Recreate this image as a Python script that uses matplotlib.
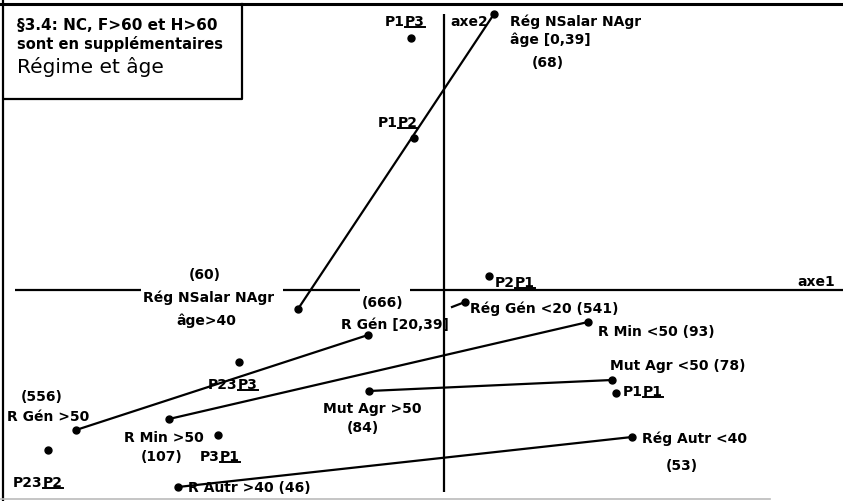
import matplotlib
matplotlib.use("Agg")
import matplotlib.pyplot as plt
from matplotlib.lines import Line2D
from matplotlib.transforms import IdentityTransform, offset_copy

names = [
    "Rég NSalar NAgr âge [0,39]", "Rég NSalar NAgr âge>40", "P1P3", "P1P2", "P2P1",
    "Rég Gén <20", "Rég Gén <20 (amorce)", "R Gén [20,39]", "R Gén >50",
    "R Min <50", "R Min >50", "Mut Agr <50", "Mut Agr >50", "P1P1",
    "Rég Autr <40", "R Autr >40", "P23P3", "P23P2", "P3P1",
]
axe1 = [0.50, -1.46, -0.33, -0.30, 0.45, 0.21, 0.08, -0.76, -3.68,
        1.44, -2.75, 1.68, -0.75, 1.72, 1.88, -2.66, -2.05, -3.96, -2.26]
axe2 = [2.76, -0.19, 2.52, 1.52, 0.14, -0.12, -0.17, -0.45, -1.40,
        -0.32, -1.29, -0.90, -1.01, -1.03, -1.47, -1.97, -0.72, -1.60, -1.45]
show_dot = [True] * len(names)
show_dot[6] = False
links = [(0, 1), (5, 6), (7, 8), (9, 10), (11, 12), (14, 15)]

FONT = dict(family="DejaVu Sans", fontweight="bold", fontsize=10, color="black")

# étiquettes : (index du point, texte, partie soulignée, dx, dy en pixels, ha)
LABELS = [
    (0, "Rég NSalar NAgr", None, 16, -7, "left"),
    (0, "âge [0,39]", None, 16, -25, "left"),
    (0, "(68)", None, 54, -48, "center"),
    (1, "(60)", None, -93, 35, "center"),
    (1, "Rég NSalar NAgr", None, -89, 12, "center"),
    (1, "âge>40", None, -92, -11, "center"),
    (2, "P1", "P3", -26, 17, "left"),
    (3, "P1", "P2", -36, 16, "left"),
    (4, "P2", "P1", 6, -6, "left"),
    (5, "Rég Gén <20 (541)", None, 5, -6, "left"),
    (7, "(666)", None, 15, 33, "center"),
    (7, "R Gén [20,39]", None, 27, 11, "center"),
    (9, "R Min <50 (93)", None, 10, -9, "left"),
    (11, "Mut Agr <50 (78)", None, -2, 15, "left"),
    (13, "P1", "P1", 7, 2, "left"),
    (14, "Rég Autr <40", None, 10, -1, "left"),
    (14, "(53)", None, 50, -28, "center"),
    (12, "Mut Agr >50", None, 3, -17, "center"),
    (12, "(84)", None, -6, -36, "center"),
    (15, "R Autr >40 (46)", None, 10, 0, "left"),
    (8, "(556)", None, -34, 34, "center"),
    (8, "R Gén >50", None, -69, 14, "left"),
    (10, "R Min >50", None, -5, -18, "center"),
    (10, "(107)", None, -7, -37, "center"),
    (18, "P3", "P1", -18, -21, "left"),
    (17, "P23", "P2", -35, -32, "left"),
    (16, "P23", "P3", -31, -22, "left"),
]


def main() -> None:
    fig = plt.figure(figsize=(8.43, 5.02), dpi=100)
    ax = fig.add_axes([0, 0, 1, 1])
    ax.set_xlim(-4.44, 3.99)
    ax.set_ylim(-2.11, 2.91)
    ax.axis("off")

    # cadre
    fig.add_artist(Line2D([0, 843], [497, 497], color="black", lw=2.2, transform=IdentityTransform()))
    fig.add_artist(Line2D([3, 3], [0, 502], color="black", lw=1.6, transform=IdentityTransform()))
    fig.add_artist(Line2D([0, 770], [2, 2], color="#bbbbbb", lw=1.2, transform=IdentityTransform()))
    fig.add_artist(Line2D([242, 242, 5], [497, 402, 402], color="black", lw=1.6, transform=IdentityTransform()))

    # axes factoriels
    for x0, x1 in [(-4.29, -3.03), (-1.61, -0.84), (-0.34, 3.99)]:
        ax.plot([x0, x1], [0, 0], color="black", lw=1.6, solid_capstyle="butt")
    ax.plot([0, 0], [-2.02, 2.76], color="black", lw=1.6, solid_capstyle="butt")
    ax.text(3.53, 0.09, "axe1", va="center", ha="left", **FONT)
    ax.text(0.06, 2.69, "axe2", va="center", ha="left", **FONT)

    for i, j in links:
        ax.plot([axe1[i], axe1[j]], [axe2[i], axe2[j]], color="black", lw=1.6)
    xs = [x for x, s in zip(axe1, show_dot) if s]
    ys = [y for y, s in zip(axe2, show_dot) if s]
    ax.plot(xs, ys, "o", color="black", ms=5, ls="none")

    under_texts = []
    for idx, txt, under, dx, dy, ha in LABELS:
        trans = offset_copy(ax.transData, fig=fig, x=dx, y=dy, units="dots")
        t = ax.text(axe1[idx], axe2[idx], txt, transform=trans, ha=ha, va="center", **FONT)
        if under:
            u = ax.annotate(under, xy=(1, 0.5), xycoords=t, ha="left", va="center", **FONT)
            under_texts.append(u)

    # encadré titre
    fig.text(17 / 843, 1 - 25 / 502, "§3.4: NC, F>60 et H>60", ha="left", va="center",
             family="DejaVu Sans Condensed", fontweight="bold", fontsize=11)
    fig.text(17 / 843, 1 - 44 / 502, "sont en supplémentaires", ha="left", va="center",
             family="DejaVu Sans Condensed", fontweight="bold", fontsize=10.5)
    fig.text(17 / 843, 1 - 67 / 502, "Régime et âge", ha="left", va="center",
             family="DejaVu Sans", fontsize=14.5)

    fig.canvas.draw()
    renderer = fig.canvas.get_renderer()
    for u in under_texts:
        bb = u.get_window_extent(renderer)
        fig.add_artist(Line2D([bb.x0, bb.x1], [bb.y0 + 1.5, bb.y0 + 1.5], color="black", lw=1.4,
                              transform=IdentityTransform()))

    fig.savefig("out.png", dpi=100)
    plt.close(fig)


if __name__ == "__main__":
    main()
